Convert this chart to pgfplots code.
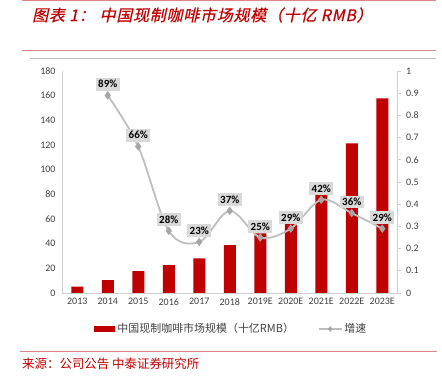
\documentclass[border=0pt]{standalone}
\usepackage{pgfplots}
\pgfplotsset{compat=1.18}
\usepackage{fontspec}
\setmainfont{Carlito}
\newfontfamily\cjk{Noto Sans CJK SC}
\newfontfamily\cjktitle{Noto Sans CJK SC}[FakeSlant=0.22, FakeBold=0.6, LetterSpace=5]
\definecolor{cred}{HTML}{C00000}
\definecolor{linered}{HTML}{E08585}
\definecolor{axgray}{HTML}{D0D0D0}
\definecolor{lgray}{HTML}{BFBFBF}
\definecolor{mgray}{HTML}{A6A6A6}
\definecolor{boxgray}{HTML}{D9D9D9}
\definecolor{txt}{HTML}{404040}
\begin{document}
\begin{tikzpicture}
\path[use as bounding box] (0bp,0bp) rectangle (442bp,377bp);
\draw[linered, line width=1bp] (22bp,376.5bp) -- (436bp,376.5bp);
\draw[linered, line width=1bp] (22bp,326bp) -- (436bp,326bp);
\draw[lgray, line width=1bp] (30bp,318bp) -- (436bp,318bp);
\draw[linered, line width=1bp] (20bp,25bp) -- (437bp,25bp);
\node[anchor=west, text=cred, inner sep=0] at (32bp,362bp) {\fontsize{16}{18}\selectfont\cjktitle 图表 1：\hspace{0.3em}中国现制咖啡市场规模（十亿 RMB）};
\node[anchor=west, text=cred, inner sep=0] at (22bp,13bp) {\fontsize{12.5}{14}\selectfont\cjk 来源：公司公告 中泰证券研究所};

\begin{axis}[
  at={(62bp,84bp)}, anchor=south west,
  width=335.5bp, height=222bp, scale only axis,
  xmin=-0.5, xmax=10.5, ymin=0, ymax=180,
  ytick={0,20,...,180},
  xtick={0,...,10},
  xticklabels={2013,2014,2015,2016,2017,2018,2019E,2020E,2021E,2022E,2023E},
  axis y line*=left, axis x line*=bottom,
  axis line style={axgray, line width=0.8bp, -},
  major tick length=0pt,
  tick label style={font=\fontsize{10}{12}\selectfont, text=txt},
  /pgf/number format/assume math mode=true,
  yticklabel style={xshift=-3bp},
  xticklabel style={yshift=-2bp},
  legend style={at={(0.505,-0.162)}, anchor=center, draw=none, fill=none,
    legend columns=2, font=\fontsize{11}{12}\selectfont\cjk, text=txt,
    /tikz/every even column/.append style={column sep=22bp},
    inner sep=0pt, legend cell align=left},
]
\addplot[ybar, bar width=12bp, fill=cred, draw=none,
  legend image code/.code={\fill[cred] (0bp,-3bp) rectangle (21bp,3bp);}]
  table[x=x, y=y] {
x y
0 5.2
1 10.5
2 17.8
3 22.7
4 28.1
5 38.9
6 48.4
7 58.4
8 80.3
9 121.4
10 157.9
};
\addlegendentry{中国现制咖啡市场规模（十亿RMB）}
\addlegendimage{legend image code/.code={\draw[lgray, line width=1.5bp] (0bp,0bp) -- (23bp,0bp); \draw[mgray, mark=diamond*, mark size=2.5bp] plot coordinates {(11.5bp,0bp)};}}
\addlegendentry{增速}
\end{axis}

\begin{axis}[
  at={(62bp,84bp)}, anchor=south west,
  width=335.5bp, height=222bp, scale only axis,
  xmin=-0.5, xmax=10.5, ymin=0, ymax=1,
  ytick={0,0.1,...,1},
  axis y line*=right, axis x line=none,
  axis line style={axgray, line width=0.8bp, -},
  ytick style={axgray, line width=0.8bp},
  tick align=outside, major tick length=3bp,
  tick label style={font=\fontsize{10}{12}\selectfont, text=txt},
  /pgf/number format/assume math mode=true,
  yticklabel style={xshift=2bp, /pgf/number format/.cd, fixed, precision=1},
]
\addplot[lgray, line width=1.8bp, smooth, tension=0.55,
  mark=diamond*, mark size=2.8bp, mark options={mgray, fill=mgray},
  point meta={y*100},
  nodes near coords={\pgfmathprintnumber[fixed,precision=0]{\pgfplotspointmeta}\%},
  every node near coord/.append style={fill=boxgray, text=black,
    font=\fontsize{11}{12}\selectfont\bfseries, inner xsep=2.5bp, inner ysep=2.5bp,
    anchor=south, yshift=4bp}]
  table[x=x, y=g] {
x g
1 0.89
2 0.66
3 0.28
4 0.23
5 0.37
6 0.25
7 0.29
8 0.42
9 0.36
10 0.29
};
\end{axis}
\end{tikzpicture}
\end{document}
